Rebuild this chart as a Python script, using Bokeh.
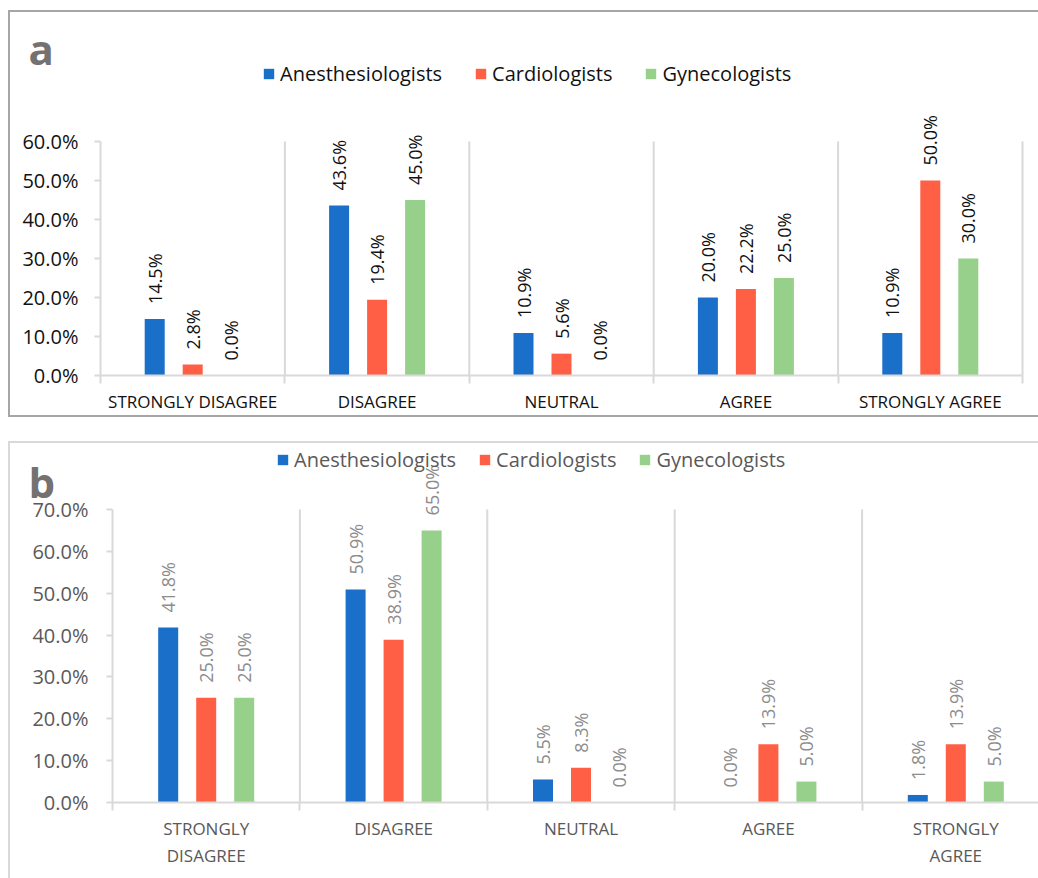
import math
from bokeh.plotting import figure
from bokeh.models import (FixedTicker, NumeralTickFormatter, Legend, LegendItem,
                          Range1d, ColumnDataSource)
from bokeh.embed import file_html
from bokeh.resources import INLINE
from bokeh.core.properties import value

# ---------------- data ----------------
categories_a = ["STRONGLY DISAGREE", "DISAGREE", "NEUTRAL", "AGREE", "STRONGLY AGREE"]
categories_b = ["STRONGLY\nDISAGREE", "DISAGREE", "NEUTRAL", "AGREE", "STRONGLY\nAGREE"]
series = ["Anesthesiologists", "Cardiologists", "Gynecologists"]

a_anesthesiologists = [14.5, 43.6, 10.9, 20.0, 10.9]
a_cardiologists = [2.8, 19.4, 5.6, 22.2, 50.0]
a_gynecologists = [0.0, 45.0, 0.0, 25.0, 30.0]

b_anesthesiologists = [41.8, 50.9, 5.5, 0.0, 1.8]
b_cardiologists = [25.0, 38.9, 8.3, 13.9, 13.9]
b_gynecologists = [25.0, 65.0, 0.0, 5.0, 5.0]

a_ticks = [0.0, 0.1, 0.2, 0.3, 0.4, 0.5, 0.6]
b_ticks = [0.0, 0.1, 0.2, 0.3, 0.4, 0.5, 0.6, 0.7]

colors = ["#1a70c8", "#ff5f45", "#96d08a"]
FONT = "Open Sans"
GRID = "#d9d9d9"


def make_panel(cats, data, ticks, *, lead, plot_w, trail, top_h, bottom_h, px_per_unit,
               text_color, label_color, legend_color, legend_xy, legend_spacing,
               letter, letter_px, cat_font, standoff_x, tick_standoff, border_css):
    n = len(cats)
    px_per_cat = plot_w / n
    frame_w = lead + plot_w + trail
    frame_h = top_h + bottom_h
    x_start = -lead / px_per_cat
    x_end = (plot_w + trail) / px_per_cat
    y_start = -bottom_h / px_per_unit
    y_end = top_h / px_per_unit
    p = figure(frame_width=frame_w, frame_height=frame_h,
               x_range=Range1d(x_start, x_end), y_range=Range1d(y_start, y_end),
               output_backend="svg", toolbar_location=None,
               min_border_left=0, min_border_right=0,
               min_border_top=0, min_border_bottom=0)
    p.outline_line_color = None
    p.xgrid.visible = False
    p.ygrid.visible = False
    p.background_fill_color = "white"
    p.border_fill_color = "white"
    p.styles = border_css

    bw = 20.0 / px_per_cat
    off = 38.0 / px_per_cat
    renderers = []
    for k, (vals, col) in enumerate(zip(data, colors)):
        xs = [i + 0.5 + (k - 1) * off for i in range(n)]
        ys = [v / 100.0 for v in vals]
        src = ColumnDataSource(dict(x=xs, top=ys, lab=[f"{v:.1f}%" for v in vals]))
        r = p.vbar(x="x", top="top", width=bw, bottom=0, source=src,
                   fill_color=col, line_color=None)
        renderers.append(r)
        p.text(x="x", y="top", text="lab", source=src, angle=math.pi / 2,
               text_align="left", text_baseline="middle", y_offset=-15,
               text_font=value(FONT), text_font_size="18px", text_color=label_color)

    # category separators
    seps = list(range(1, n + 1))
    p.segment(x0=seps, y0=[0] * len(seps), x1=seps, y1=[ticks[-1]] * len(seps),
              line_color=GRID, line_width=2)

    # y axis (drawn at x = 0 inside the frame)
    ya = p.yaxis[0]
    ya.fixed_location = 0
    ya.ticker = FixedTicker(ticks=ticks, minor_ticks=[])
    ya.formatter = NumeralTickFormatter(format="0.0%")
    ya.bounds = (0, ticks[-1])
    ya.axis_line_color = GRID
    ya.axis_line_width = 2
    ya.major_tick_line_color = GRID
    ya.major_tick_line_width = 2
    ya.major_tick_out = 6
    ya.major_tick_in = 0
    ya.minor_tick_line_color = None
    ya.major_label_text_font = FONT
    ya.major_label_text_font_size = "20px"
    ya.major_label_text_color = text_color
    ya.major_label_standoff = tick_standoff

    # x axis (drawn at y = 0 inside the frame)
    xa = p.xaxis[0]
    xa.fixed_location = 0
    xa.bounds = (0, n)
    xa.ticker = FixedTicker(ticks=[i + 0.5 for i in range(n)],
                            minor_ticks=list(range(0, n + 1)))
    xa.major_label_overrides = {i + 0.5: c for i, c in enumerate(cats)}
    xa.axis_line_color = GRID
    xa.axis_line_width = 2
    xa.major_tick_line_color = None
    xa.major_tick_out = 0
    xa.major_tick_in = 0
    xa.minor_tick_line_color = GRID
    xa.minor_tick_line_width = 2
    xa.minor_tick_out = 8
    xa.minor_tick_in = 0
    xa.major_label_text_font = FONT
    xa.major_label_text_font_size = cat_font
    xa.major_label_text_color = text_color
    xa.major_label_standoff = standoff_x

    legend = Legend(items=[LegendItem(label=s, renderers=[r]) for s, r in zip(series, renderers)],
                    orientation="horizontal", location=(legend_xy[0], legend_xy[1] + bottom_h),
                    padding=0, margin=0, spacing=legend_spacing,
                    glyph_width=13, glyph_height=13, label_standoff=5,
                    label_text_font=FONT, label_text_font_size="20px",
                    label_text_color=legend_color,
                    background_fill_alpha=0, border_line_alpha=0)
    p.add_layout(legend, "center")

    # panel letter (pixel offsets from the axes origin converted to data units)
    p.text(x=[letter_px[0] / px_per_cat], y=[letter_px[1] / px_per_unit], text=[letter],
           text_font=value(FONT), text_font_style="bold", text_font_size="42px",
           text_color="#767171", text_baseline="alphabetic", text_align="left")
    return p


p1 = make_panel(categories_a, [a_anesthesiologists, a_cardiologists, a_gynecologists], a_ticks,
                lead=90, plot_w=922, trail=16, top_h=363, bottom_h=40, px_per_unit=390.0,
                text_color="#111111", label_color="#111111", legend_color="#111111",
                legend_xy=(252, 288), legend_spacing=32, letter="a", letter_px=(-72, 327),
                cat_font="17px", standoff_x=6, tick_standoff=16,
                border_css={"border-top": "2px solid #a6a6a6",
                            "border-left": "2px solid #a6a6a6",
                            "border-bottom": "2px solid #a6a6a6"})
p1.margin = (10, 0, 0, 8)

p2 = make_panel(categories_b, [b_anesthesiologists, b_cardiologists, b_gynecologists], b_ticks,
                lead=102, plot_w=937, trail=-11, top_h=359, bottom_h=76, px_per_unit=418.6,
                text_color="#595959", label_color="#8c8c8c", legend_color="#595959",
                legend_xy=(266, 329), legend_spacing=22, letter="b", letter_px=(-84, 321),
                cat_font="17px", standoff_x=6, tick_standoff=18,
                border_css={"border-top": "2px solid #d9d9d9",
                            "border-left": "2px solid #d9d9d9"})
p2.margin = (24, 0, 0, 8)

with open("out.html", "w") as f:
    f.write(file_html([p1, p2], INLINE))
